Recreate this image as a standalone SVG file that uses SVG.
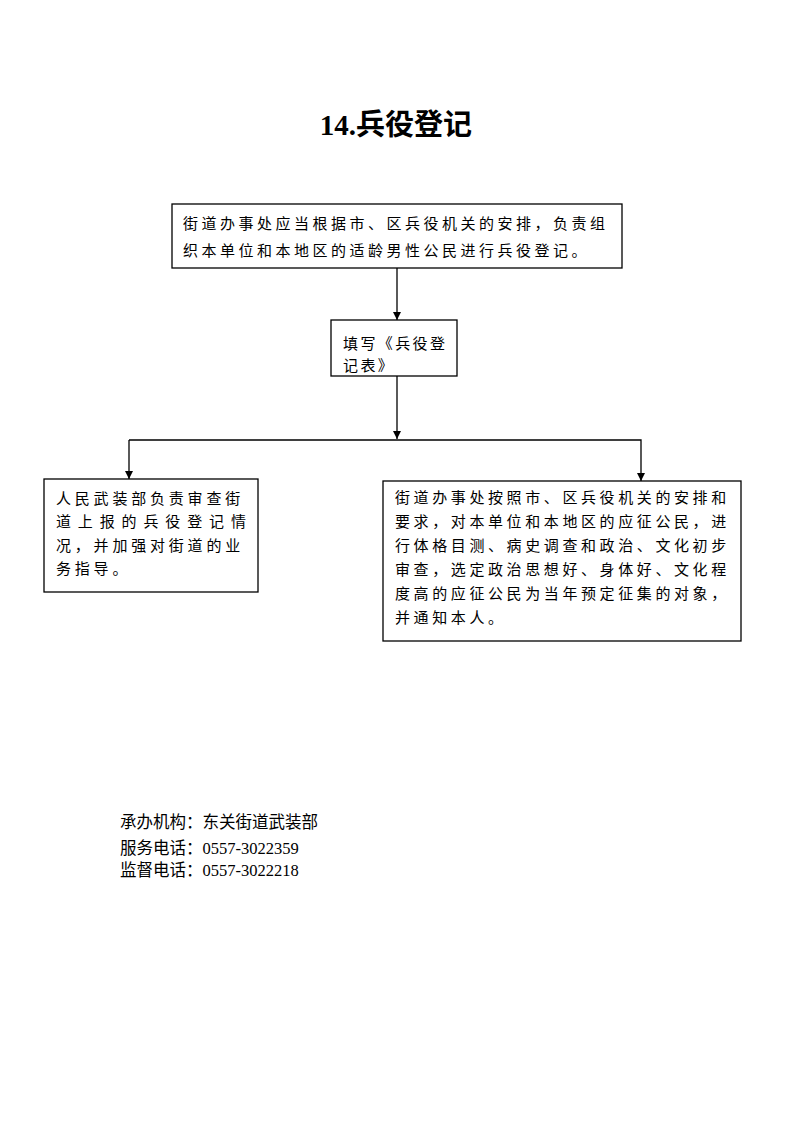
<svg xmlns="http://www.w3.org/2000/svg" width="793" height="1122" viewBox="0 0 793 1122">
<defs>
<marker id="arr" viewBox="0 0 10 10" refX="10" refY="5" markerWidth="8" markerHeight="8" markerUnits="userSpaceOnUse" orient="auto">
<path d="M0,0 L10,5 L0,10 z" fill="#000"/>
</marker>
<style>
.box{fill:#fff;stroke:#000;stroke-width:1.3}
.t{font-family:"Noto Sans CJK SC","Noto Sans CJK JP",sans-serif;font-size:15px;fill:#000}
.f{font-family:"Liberation Serif","Noto Sans CJK SC",serif;font-size:16.5px;fill:#000}
.ln{fill:none;stroke:#000;stroke-width:1.3}
</style>
</defs>
<rect width="793" height="1122" fill="#fff"/>
<text x="396" y="135" text-anchor="middle" font-family="Liberation Serif,'Noto Sans CJK SC',serif" font-size="29" font-weight="bold">14.兵役登记</text>

<g id="n1">
<rect class="box" x="172" y="204" width="450" height="64"/>
<text class="t" x="183" y="228.5" letter-spacing="3.5">街道办事处应当根据市、区兵役机关的安排，负责组</text>
<text class="t" x="183" y="255.5" letter-spacing="3.5">织本单位和本地区的适龄男性公民进行兵役登记。</text>
</g>

<g id="n2">
<rect class="box" x="331" y="320" width="126" height="56"/>
<text class="t" x="343" y="348.5" letter-spacing="2.4">填写《兵役登</text>
<text class="t" x="343" y="370.5" letter-spacing="2.4">记表》</text>
</g>

<g id="n3">
<rect class="box" x="44" y="479" width="214" height="113"/>
<text class="t" x="56" y="503.5" letter-spacing="3.8">人民武装部负责审查街</text>
<text class="t" x="56" y="526.5" textLength="190" lengthAdjust="spacing">道上报的兵役登记情</text>
<text class="t" x="56" y="550.5" letter-spacing="3.8">况，并加强对街道的业</text>
<text class="t" x="56" y="573.5" letter-spacing="3.8">务指导。</text>
</g>

<g id="n4">
<rect class="box" x="383" y="481" width="358" height="160"/>
<text class="t" x="395" y="502.5" letter-spacing="3.6">街道办事处按照市、区兵役机关的安排和</text>
<text class="t" x="395" y="526.5" letter-spacing="3.6">要求，对本单位和本地区的应征公民，进</text>
<text class="t" x="395" y="550.5" letter-spacing="3.6">行体格目测、病史调查和政治、文化初步</text>
<text class="t" x="395" y="574.5" letter-spacing="3.6">审查，选定政治思想好、身体好、文化程</text>
<text class="t" x="395" y="598.5" letter-spacing="3.6">度高的应征公民为当年预定征集的对象，</text>
<text class="t" x="395" y="622.5" letter-spacing="3.6">并通知本人。</text>
</g>

<g id="connectors">
<line class="ln" x1="397" y1="268" x2="397" y2="320" marker-end="url(#arr)"/>
<line class="ln" x1="397" y1="376" x2="397" y2="439" marker-end="url(#arr)"/>
<polyline class="ln" points="129,440 641,440 641,481" marker-end="url(#arr)"/>
<line class="ln" x1="129" y1="440" x2="129" y2="479" marker-end="url(#arr)"/>
</g>

<g id="footer">
<text class="f" x="120" y="828">承办机构：东关街道武装部</text>
<text class="f" x="120" y="854">服务电话：0557-3022359</text>
<text class="f" x="120" y="876">监督电话：0557-3022218</text>
</g>
</svg>
